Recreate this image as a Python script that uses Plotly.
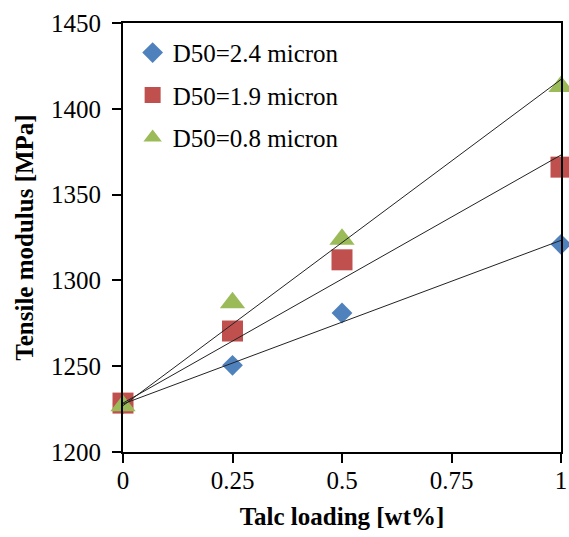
import numpy as np
import plotly.graph_objects as go

talc_loading = [0, 0.25, 0.5, 1]
series_names = ["D50=2.4 micron", "D50=1.9 micron", "D50=0.8 micron"]
modulus_24 = [1228, 1250.5, 1281, 1321]
modulus_19 = [1228.5, 1270.5, 1312, 1366]
modulus_08 = [1227, 1287, 1324, 1413]
series_values = [modulus_24, modulus_19, modulus_08]
colors = ["#4F81BD", "#C0504D", "#9BBB59"]
symbols = ["diamond", "square", "triangle-up"]
sizes = [16, 21, 22]

y_ticks = [1200, 1250, 1300, 1350, 1400, 1450]
x_ticks = [0, 0.25, 0.5, 0.75, 1]
x_tick_text = ["0", "0.25", "0.5", "0.75", "1"]

SERIF = "Liberation Serif"

fig = go.Figure()

for i, (name, vals) in enumerate(zip(series_names, series_values)):
    fig.add_trace(go.Scatter(
        x=talc_loading, y=vals, mode="markers", name=name,
        marker=dict(symbol=symbols[i], color=colors[i], size=sizes[i], line=dict(width=0)),
        cliponaxis=False, legendgroup=f"g{i}",
    ))

# linear trendlines with intercept fixed at the first (0 wt%) value
x_arr = np.array(talc_loading, dtype=float)
for i, vals in enumerate(series_values):
    y_arr = np.array(vals, dtype=float)
    b = y_arr[0]
    slope = np.sum(x_arr * (y_arr - b)) / np.sum(x_arr ** 2)
    xl = np.array([x_arr.min(), x_arr.max()])
    fig.add_trace(go.Scatter(
        x=xl, y=b + slope * xl, mode="lines", showlegend=False,
        line=dict(color="#222222", width=1), cliponaxis=False, hoverinfo="skip",
    ))

fig.update_layout(
    width=569, height=537,
    margin=dict(l=123, r=8, t=23, b=85, autoexpand=False),
    paper_bgcolor="white", plot_bgcolor="white",
    font=dict(family=SERIF, color="black", size=24),
    showlegend=True,
    legend=dict(
        x=0.022, y=0.984, xanchor="left", yanchor="top",
        bgcolor="rgba(0,0,0,0)", borderwidth=0,
        font=dict(family=SERIF, size=25, color="black"),
        traceorder="grouped", tracegroupgap=7,
        itemwidth=30,
    ),
    xaxis=dict(
        range=[0, 1], tickvals=x_ticks, ticktext=x_tick_text,
        showgrid=False, zeroline=False, automargin=False,
        showline=True, linecolor="black", linewidth=2, mirror=True,
        ticks="outside", ticklen=9, tickwidth=2, tickcolor="black",
        ticklabelstandoff=-4, ticklabeloverflow="allow",
        tickfont=dict(family=SERIF, size=25, color="black"),
        title=dict(text="<b>Talc loading [wt%]</b>", font=dict(family=SERIF, size=25, color="black"), standoff=14),
    ),
    yaxis=dict(
        range=[1200, 1450], tickvals=y_ticks,
        showgrid=False, zeroline=False, automargin=False,
        showline=True, linecolor="black", linewidth=2, mirror=True,
        ticks="outside", ticklen=9, tickwidth=2, tickcolor="black",
        ticklabelstandoff=6, ticklabeloverflow="allow",
        tickfont=dict(family=SERIF, size=25, color="black"),
        title=dict(text="<b>Tensile modulus [MPa]</b>", font=dict(family=SERIF, size=25, color="black"), standoff=10),
    ),
)

fig.write_html("out.html")
